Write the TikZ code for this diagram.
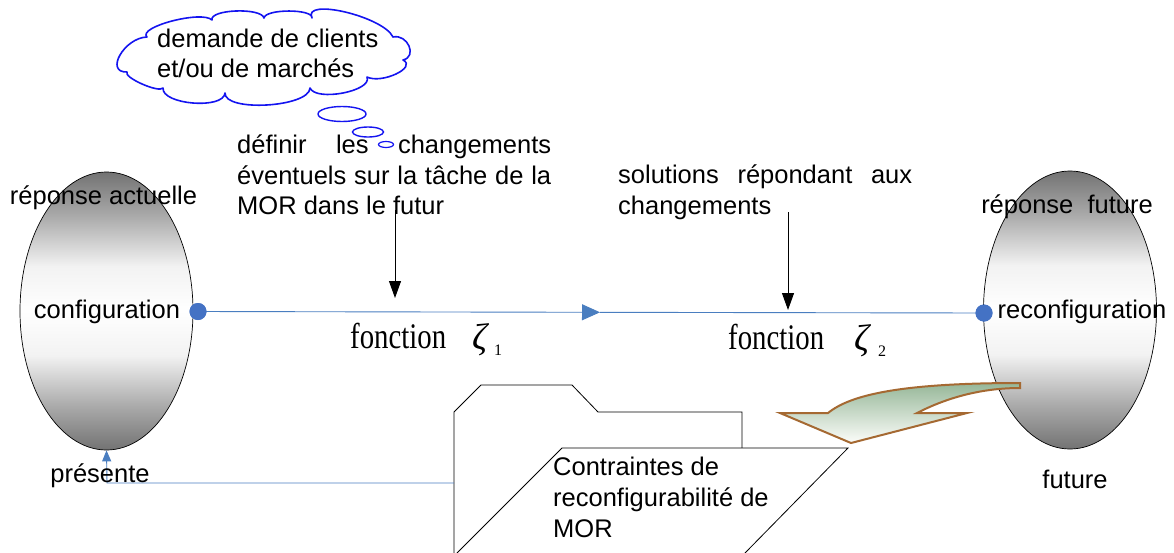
\documentclass[tikz,border=0pt]{standalone}
\usepackage{graphicx}
\usepackage{fontspec}
\setmainfont{Liberation Sans}
\newfontfamily\timesf{Liberation Serif}
\usetikzlibrary{shapes.geometric,arrows.meta}
\definecolor{lineblue}{RGB}{74,126,192}
\definecolor{dotblue}{RGB}{68,114,196}
\definecolor{arrbrown}{RGB}{165,105,50}
\definecolor{arrgreen}{RGB}{150,183,152}
\definecolor{arrlight}{RGB}{252,253,250}
\definecolor{cloudblue}{RGB}{20,20,240}
\pgfdeclareverticalshading{ovalshade}{100bp}{color(0bp)=(black!55); color(25bp)=(black!55); color(33bp)=(black!33); color(42bp)=(black!5); color(50bp)=(white); color(58bp)=(black!5); color(67bp)=(black!33); color(75bp)=(black!55); color(100bp)=(black!55)}
\begin{document}
\begin{tikzpicture}[x=1pt,y=-1pt,
  txt/.style={font=\fontsize{25.5}{30}\selectfont, inner sep=0pt, anchor=base west},
  txtc/.style={txt, anchor=base},
  oval/.style={ellipse, draw=black, line width=0.7pt, minimum width=173pt, minimum height=278pt, inner sep=0pt, shading=ovalshade},
  bluedot/.style={circle, fill=dotblue, minimum size=17pt, inner sep=0pt},
  blueline/.style={lineblue, line width=0.9pt},
  downarrow/.style={black, line width=1pt, -{Triangle[width=12pt,length=17pt]}},
  bubble/.style={ellipse, draw=cloudblue, line width=1.4pt, inner sep=0pt},
  cloudline/.style={draw=cloudblue, line width=1.6pt, line join=round},
  fonc/.style={font=\timesf\fontsize{36}{36}\selectfont, inner sep=0pt, anchor=base west},
  zet/.style={font=\timesf\itshape\fontsize{37}{37}\selectfont, inner sep=0pt, anchor=base west},
  subs/.style={font=\timesf\fontsize{16}{16}\selectfont, inner sep=0pt, anchor=base west},
  folderline/.style={black, line width=0.8pt, line join=miter}
]
\useasboundingbox (0,0) rectangle (1174,552);

% ellipses
\node[oval] (lell) at (106.5,311) {};
\node[oval] (rell) at (1070,310) {};

% folder
\draw[folderline] (454,553) -- (454,412) -- (481,385) -- (572,385) -- (598,412) -- (742,412) -- (742,448);
\draw[folderline, fill=white] (457,553) -- (562,448) -- (848,448) -- (745,553);

% curved arrow
\shadedraw[top color=arrgreen, bottom color=arrlight, draw=arrbrown, line width=2pt, line join=miter]
  (1020,383) .. controls (900,383) and (850,395) .. (828,413) -- (780,413) -- (851,443) -- (967,413) -- (917,413)
  .. controls (950,396) and (985,388) .. (1020,388) -- cycle;

% cloud
\path[cloudline, fill=white] (127,72)
  .. controls (104.3,72.7) and (124.3,37.7) .. (147,37)
  .. controls (137,27) and (202,10) .. (212,20)
  .. controls (209.3,9.3) and (261.3,7.3) .. (264,18)
  .. controls (265.3,8.7) and (313.3,8.7) .. (312,18)
  .. controls (302,-2.7) and (383,16.3) .. (393,37)
  .. controls (407.7,33.7) and (417.7,56.7) .. (403,60)
  .. controls (417.7,67.3) and (381.7,84.3) .. (367,77)
  .. controls (373,91) and (316,102) .. (310,88)
  .. controls (309.3,107.3) and (224.3,112.3) .. (225,93)
  .. controls (223.7,109.7) and (161.7,104.7) .. (163,88)
  .. controls (159,93.3) and (123,77.3) .. (127,72) -- cycle;
\node[bubble, minimum width=48pt, minimum height=15pt] (b1) at (342,114) {};
\node[bubble, minimum width=31pt, minimum height=10pt] (b2) at (368,132) {};
\node[bubble, minimum width=15pt, minimum height=6pt, line width=1.2pt] (b3) at (386,144.5) {};
\node[txt] (c1) at (157,47) {demande de clients};
\node[txt] (c2) at (157,77) {et/ou de marchés};

% main line
\node[bluedot] (ld) at (198,311.5) {};
\node[bluedot] (rd) at (984,313) {};
\coordinate (mid) at (600,312.3);
\draw[blueline, -{Triangle[width=16pt,length=18pt]}] (ld.center) -- (mid);
\draw[blueline] (mid) -- (rd.center);
\node[bluedot] at (ld) {};
\node[bluedot] at (rd) {};

% feedback
\coordinate (fb) at (454,483);
\coordinate (fbc) at (107,483);
\draw[blueline, -{Triangle[width=9pt,length=11pt]}] (fb) -- (fbc) -- (lell.south);

% texts on ellipses
\node[txtc] (ra) at (103.5,204) {réponse actuelle};
\node[txtc] (conf) at (107,318) {configuration};
\node[txtc] (pres) at (100,482) {présente};
\node[txtc] (rf) at (1067,213) {réponse\ \ future};
\node[txtc] (reconf) at (1082,318) {reconfiguration};
\node[txtc] (fut) at (1075,488) {future};

% upper texts
\node[txt] (d1) at (237,153) {\makebox[314pt][s]{définir\hfill les\hfill changements}};
\node[txt] (d2) at (237,184) {\makebox[314pt][s]{éventuels sur la tâche de la}};
\node[txt] (d3) at (237,214) {MOR dans le futur};
\node[txt] (s1) at (618,183) {\makebox[294pt][s]{solutions\hfill répondant\hfill aux}};
\node[txt] (s2) at (618,214) {changements};

% down arrows
\coordinate (a1s) at (395,210);
\coordinate (a1e) at (395,298);
\draw[downarrow] (a1s) -- (a1e);
\coordinate (a2s) at (788,212);
\coordinate (a2e) at (788,310);
\draw[downarrow] (a2s) -- (a2e);

% fonction labels
\node[fonc] (f1) at (350,348) {\scalebox{0.8}[1]{fonction}};
\node[zet] (z1) at (472,349) {ζ};
\node[subs] (n1) at (494,355) {1};
\node[fonc] (f2) at (728,349) {\scalebox{0.8}[1]{fonction}};
\node[zet] (z2) at (854,350) {ζ};
\node[subs] (n2) at (878,356) {2};

% constraints text
\node[txt] (k1) at (553,475) {Contraintes de};
\node[txt] (k2) at (553,506) {reconfigurabilité de};
\node[txt] (k3) at (553,537) {MOR};
\end{tikzpicture}
\end{document}
